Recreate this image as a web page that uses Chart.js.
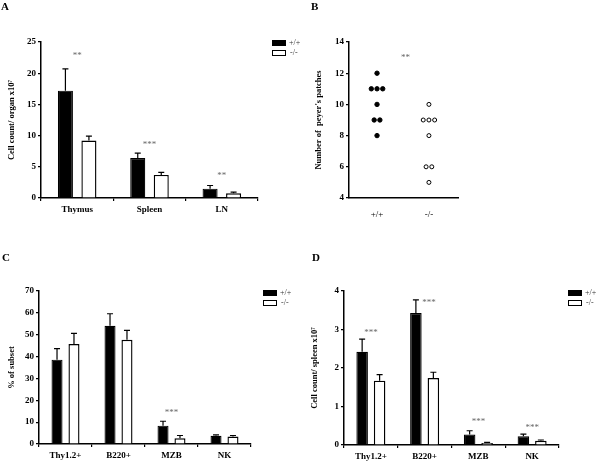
<!DOCTYPE html>
<html>
<head>
<meta charset="utf-8">
<script src="https://cdn.jsdelivr.net/npm/chart.js@4.4.1/dist/chart.umd.min.js"></script>
<style>
body { margin: 0; background: #fff; }
#wrap { position: relative; width: 600px; height: 466px; background: #fff; }
canvas { position: absolute; }
.tag { position: absolute; font: bold 11px 'Liberation Serif', 'Times New Roman', serif; color: #000; }
</style>
</head>
<body>
<div id="wrap">
  <canvas id="chartA" width="300" height="233" style="left:0;top:0"></canvas>
  <canvas id="chartB" width="300" height="233" style="left:300px;top:0"></canvas>
  <canvas id="chartC" width="300" height="233" style="left:0;top:233px"></canvas>
  <canvas id="chartD" width="300" height="233" style="left:300px;top:233px"></canvas>
  <div class="tag" style="left:1px;top:0px">A</div>
  <div class="tag" style="left:311px;top:0px">B</div>
  <div class="tag" style="left:2px;top:251px">C</div>
  <div class="tag" style="left:312px;top:251px">D</div>
</div>
<script>
// Panel A - organ cell counts
const organs = ['Thymus', 'Spleen', 'LN'];
const organWt = [17.2, 6.4, 1.5];
const organWtErr = [3.5, 0.8, 0.5];
const organKo = [9.2, 3.7, 0.75];
const organKoErr = [0.7, 0.4, 0.2];
const organStars = ['**', '***', '**'];
const organStarY = [22.8, 8.5, 3.6];

// Panel B - peyer's patches per mouse
const ppWtY = [12, 11, 11, 11, 10, 9, 9, 8];
const ppWtX = [1, 0.89, 1, 1.11, 1, 0.945, 1.055, 1];
const ppKoY = [10, 9, 9, 9, 8, 6, 6, 5];
const ppKoX = [2, 1.89, 2, 2.11, 2, 1.945, 2.055, 2];
const ppGroups = ['+/+', '-/-'];

// Panel C - % of subset
const subsets = ['Thy1.2+', 'B220+', 'MZB', 'NK'];
const pctWt = [38.6, 54.1, 8.4, 3.8];
const pctWtErr = [5.0, 5.5, 2.0, 0.4];
const pctKo = [45.7, 47.7, 2.6, 3.4];
const pctKoErr = [4.9, 4.3, 1.3, 0.5];
const pctStars = ['', '', '***', ''];
const pctStarY = [0, 0, 14.2, 0];

// Panel D - spleen cell counts
const spleenWt = [2.42, 3.43, 0.27, 0.23];
const spleenWtErr = [0.33, 0.34, 0.1, 0.05];
const spleenKo = [1.67, 1.74, 0.05, 0.11];
const spleenKoErr = [0.16, 0.15, 0.02, 0.02];
const spleenStars = ['***', '***', '***', '***'];
const spleenStarY = [2.93, 3.71, 0.6, 0.44];

const SERIF = "'Liberation Serif', 'Times New Roman', serif";
const tickFont = { family: SERIF, size: 9, weight: 'bold' };
const titleFont = { family: SERIF, size: 8.5, weight: 'bold' };

// error bars, asterisks and the little legend
const extras = {
    id: 'extras',
    afterDatasetsDraw(chart, args, opts) {
        const ctx = chart.ctx;
        const xs = chart.scales.x, ys = chart.scales.y;
        ctx.save();
        ctx.strokeStyle = '#000';
        ctx.lineWidth = 1.2;
        (opts.errors || []).forEach((errs, di) => {
            const meta = chart.getDatasetMeta(di);
            meta.data.forEach((bar, i) => {
                const v = chart.data.datasets[di].data[i];
                const yTop = ys.getPixelForValue(v + errs[i]);
                ctx.beginPath();
                ctx.moveTo(bar.x, bar.y);
                ctx.lineTo(bar.x, yTop);
                ctx.moveTo(bar.x - 3, yTop);
                ctx.lineTo(bar.x + 3, yTop);
                ctx.stroke();
            });
        });
        if (opts.stars) {
            ctx.fillStyle = '#666';
            ctx.font = '9px ' + SERIF;
            ctx.textAlign = 'center';
            ctx.textBaseline = 'middle';
            opts.stars.text.forEach((t, i) => {
                if (!t) return;
                const xv = opts.stars.x ? opts.stars.x[i] : i;
                ctx.fillText(t, xs.getPixelForValue(xv), ys.getPixelForValue(opts.stars.y[i]));
            });
        }
        if (opts.legend) {
            const lx = opts.legend.x, ly = opts.legend.y;
            ctx.fillStyle = '#000';
            ctx.fillRect(lx, ly, 14, 6);
            ctx.fillStyle = '#fff';
            ctx.fillRect(lx, ly + 10, 14, 6);
            ctx.lineWidth = 1;
            ctx.strokeRect(lx + 0.5, ly + 10.5, 13, 5);
            ctx.fillStyle = '#333';
            ctx.font = '8px ' + SERIF;
            ctx.textAlign = 'left';
            ctx.textBaseline = 'middle';
            ctx.fillText('+/+', lx + 17, ly + 3);
            ctx.fillText('-/-', lx + 18, ly + 13);
        }
        ctx.restore();
    }
};

function yAxis(max, step, title, width, titlePad, min) {
    return {
        min: min || 0,
        max: max,
        ticks: { stepSize: step, font: tickFont, color: '#000', padding: 2 },
        grid: { drawOnChartArea: false, drawTicks: true, tickLength: 3, color: '#000', lineWidth: 1.2 },
        border: { color: '#000', width: 1.5 },
        title: { display: true, text: title, font: titleFont, color: '#000', padding: { top: titlePad, bottom: 0 } },
        afterFit(s) { s.width = width; }
    };
}

function xCatAxis(height) {
    return {
        type: 'category',
        offset: true,
        ticks: { font: tickFont, color: '#000', padding: 3 },
        grid: { offset: true, drawOnChartArea: false, drawTicks: true, tickLength: 3, color: '#000', lineWidth: 1.2 },
        border: { color: '#000', width: 1.5 },
        afterFit(s) { s.height = height; }
    };
}

function barChart(id, labels, wt, ko, cfg) {
    return new Chart(document.getElementById(id), {
        type: 'bar',
        data: {
            labels: labels,
            datasets: [
                { label: '+/+', data: wt, backgroundColor: '#000', borderColor: '#000', borderWidth: 1.2 },
                { label: '-/-', data: ko, backgroundColor: '#fff', borderColor: '#000', borderWidth: 1.4 }
            ]
        },
        options: {
            responsive: false,
            animation: false,
            devicePixelRatio: 1,
            categoryPercentage: cfg.cat,
            barPercentage: cfg.bar,
            layout: { padding: cfg.pad },
            scales: {
                x: xCatAxis(cfg.xh),
                y: yAxis(cfg.max, cfg.step, cfg.title, cfg.yw, cfg.tp)
            },
            plugins: {
                legend: { display: false },
                tooltip: { enabled: false },
                extras: { errors: cfg.errors, stars: cfg.stars, legend: cfg.legend }
            }
        },
        plugins: [extras]
    });
}

window.chartA = barChart('chartA', organs, organWt, organKo, {
    cat: 0.65, bar: 0.64, max: 25, step: 5,
    title: 'Cell count/ organ x10\u2077', yw: 41, tp: 7, xh: 35,
    pad: { left: 0, top: 42, right: 42, bottom: 0 },
    errors: [organWtErr, organKoErr],
    stars: { text: organStars, y: organStarY },
    legend: { x: 272, y: 40 }
});

window.chartC = barChart('chartC', subsets, pctWt, pctKo, {
    cat: 0.64, bar: 0.65, max: 70, step: 10,
    title: '% of subset', yw: 39, tp: 7, xh: 22,
    pad: { left: 0, top: 58, right: 49, bottom: 0 },
    errors: [pctWtErr, pctKoErr],
    stars: { text: pctStars, y: pctStarY },
    legend: { x: 263, y: 57 }
});

window.chartD = barChart('chartD', subsets, spleenWt, spleenKo, {
    cat: 0.65, bar: 0.66, max: 4, step: 1,
    title: 'Cell count/ spleen x10\u2077', yw: 44, tp: 10, xh: 21,
    pad: { left: 0, top: 58, right: 41, bottom: 0 },
    errors: [spleenWtErr, spleenKoErr],
    stars: { text: spleenStars, y: spleenStarY, x: [0, 1.08, 2, 3] },
    legend: { x: 268, y: 57 }
});

window.chartB = new Chart(document.getElementById('chartB'), {
    type: 'scatter',
    data: {
        datasets: [
            { label: '+/+', data: ppWtY.map((y, i) => ({ x: ppWtX[i], y: y })), pointRadius: 2.2, backgroundColor: '#000', borderColor: '#000', borderWidth: 1 },
            { label: '-/-', data: ppKoY.map((y, i) => ({ x: ppKoX[i], y: y })), pointRadius: 2, backgroundColor: '#fff', borderColor: '#000', borderWidth: 1 }
        ]
    },
    options: {
        responsive: false,
        animation: false,
        devicePixelRatio: 1,
        layout: { padding: { left: 0, top: 42, right: 142, bottom: 0 } },
        scales: {
            x: {
                type: 'linear', min: 0.46, max: 2.56,
                afterBuildTicks(s) { s.ticks = [{ value: 1 }, { value: 2 }]; },
                ticks: { font: { family: SERIF, size: 9 }, color: '#000', padding: 3, callback: v => ppGroups[v - 1] || '' },
                grid: { display: false },
                border: { color: '#000', width: 1.5 },
                afterFit(s) { s.height = 35; }
            },
            y: yAxis(14, 2, "Number of  peyer's patches", 49, 14, 4)
        },
        plugins: {
            legend: { display: false },
            tooltip: { enabled: false },
            extras: { stars: { text: ['**'], y: [13], x: [1.55] } }
        }
    },
    plugins: [extras]
});
</script>
</body>
</html>
